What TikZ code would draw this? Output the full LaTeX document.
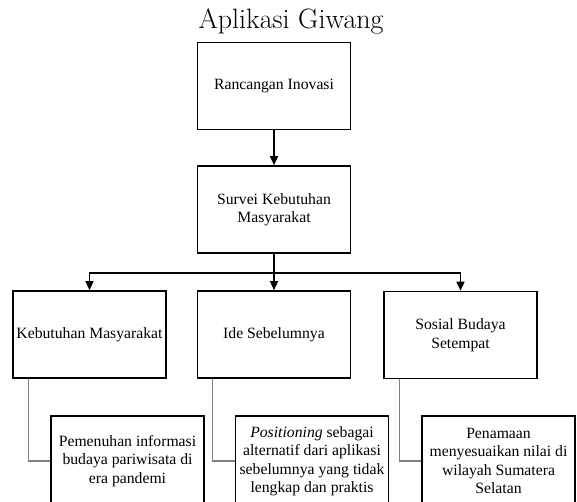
\documentclass[tikz,border=0pt]{standalone}
\usepackage{fontspec}
\newfontfamily\boxfont{Liberation Serif}
\usetikzlibrary{arrows.meta,positioning}

\begin{document}
\begin{tikzpicture}[x=1pt,y=-1pt,>={Stealth[inset=0pt,length=9pt,width=8pt]},
  box/.style = {draw, line width=1.6pt, minimum width=153pt, minimum height=87pt, inner sep=1pt, align=center, font=\boxfont\fontsize{15.7}{18.5}\selectfont},
  subbox/.style = {box, minimum height=90pt},
  link/.style = {line width=1.2pt},
  side/.style = {draw=gray, line width=1.3pt},]
\useasboundingbox (0,0) rectangle (577,502);
\node (title) at (291,29)[anchor=base,font=\fontsize{28}{32}\selectfont] {Aplikasi Giwang};
\node (ran) at (274,86)[box] {Rancangan Inovasi};
\node (sur) at (274,209.5)[box] {Survei Kebutuhan\\Masyarakat};
\node (keb) at (89.5,334.5)[box] {Kebutuhan Masyarakat};
\node (ide) at (274,334.5)[box] {Ide Sebelumnya};
\node (sos) at (460.5,335)[box] {Sosial Budaya\\Setempat};
\node (pem) at (127.5,461)[subbox] {Pemenuhan informasi\\budaya pariwisata di\\era pandemi};
\node (pos) at (312,461)[subbox] {\textit{Positioning} sebagai\\alternatif dari aplikasi\\sebelumnya yang tidak\\lengkap dan praktis};
\node (pen) at (498.5,461)[subbox] {Penamaan\\menyesuaikan nilai di\\wilayah Sumatera\\Selatan};
\coordinate (split) at (274,273);
\draw[link,->] (ran)--(sur);
\draw[link] (sur)--(split);
\draw[link,->] (split)-|(keb);
\draw[link,->] (split)--(ide);
\draw[link,->] (split)-|(sos);
\draw[side] ([xshift=16pt]keb.south west)|-(pem);
\draw[side] ([xshift=16pt]ide.south west)|-(pos);
\draw[side] ([xshift=16pt]sos.south west)|-(pen);
\end{tikzpicture}
\end{document}
